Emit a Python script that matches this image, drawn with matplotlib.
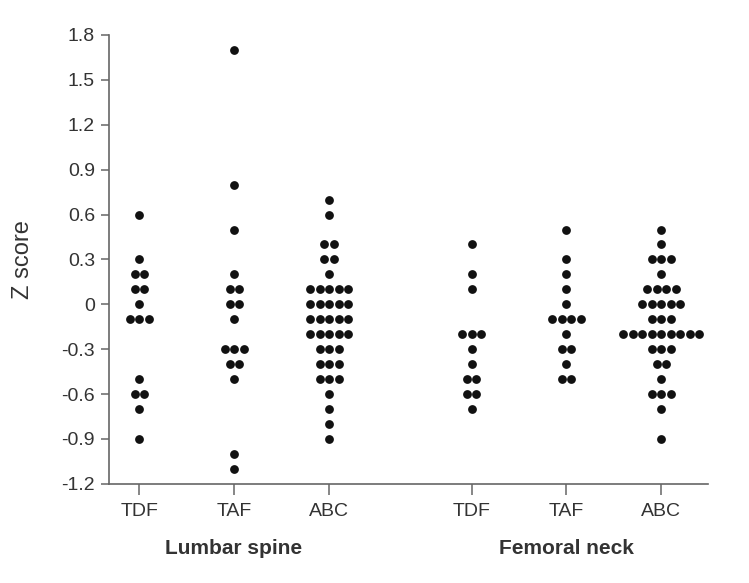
import numpy as np
import matplotlib.pyplot as plt
from collections import Counter

plt.rcParams['font.family'] = ['Liberation Sans', 'DejaVu Sans']
plt.rcParams['axes.unicode_minus'] = False

# z scores, one entry per patient
lumbar_tdf = [0.6, 0.3, 0.2, 0.2, 0.1, 0.1, 0.0, -0.1, -0.1, -0.1,
              -0.5, -0.6, -0.6, -0.7, -0.9]
lumbar_taf = [1.7, 0.8, 0.5, 0.2, 0.1, 0.1, 0.0, 0.0, -0.1, -0.3, -0.3, -0.3,
              -0.4, -0.4, -0.5, -1.0, -1.1]
lumbar_abc = ([0.7, 0.6, 0.4, 0.4, 0.3, 0.3, 0.2] + [0.1] * 5 + [0.0] * 5 +
              [-0.1] * 5 + [-0.2] * 5 + [-0.3] * 3 + [-0.4] * 3 + [-0.5] * 3 +
              [-0.6, -0.7, -0.8, -0.9])
femoral_tdf = [0.4, 0.2, 0.1, -0.2, -0.2, -0.2, -0.3, -0.4, -0.5, -0.5,
               -0.6, -0.6, -0.7]
femoral_taf = [0.5, 0.3, 0.2, 0.1, 0.0, -0.1, -0.1, -0.1, -0.1, -0.2,
               -0.3, -0.3, -0.4, -0.5, -0.5]
femoral_abc = ([0.5, 0.4, 0.3, 0.3, 0.3, 0.2] + [0.1] * 4 + [0.0] * 5 +
               [-0.1] * 3 + [-0.2] * 9 + [-0.3] * 3 + [-0.4] * 2 +
               [-0.5, -0.6, -0.6, -0.6, -0.7, -0.9])

groups = [lumbar_tdf, lumbar_taf, lumbar_abc, femoral_tdf, femoral_taf, femoral_abc]
group_names = ['TDF', 'TAF', 'ABC', 'TDF', 'TAF', 'ABC']
sites = ['Lumbar spine', 'Femoral neck']
xpos = [0, 1, 2, 3.5, 4.5, 5.5]

fig = plt.figure(figsize=(7.49, 5.83), dpi=100)
ax = fig.add_axes([0.1455, 0.170, 0.7995, 0.770])

spacing = 0.1
for x0, vals in zip(xpos, groups):
    counts = Counter(round(v, 2) for v in vals)
    xs, ys = [], []
    for v, n in counts.items():
        for i in range(n):
            xs.append(x0 + (i - (n - 1) / 2) * spacing)
            ys.append(v)
    ax.scatter(xs, ys, s=40, color='#111111', linewidths=0, zorder=3)

ax.set_xlim(-0.32, 5.99)
ax.set_ylim(-1.2, 1.8)
yt = np.round(np.arange(-1.2, 1.81, 0.3), 1)
ax.set_yticks(yt)
ax.set_yticklabels(['0' if t == 0 else f'{t:.1f}' for t in yt])
ax.set_xticks(xpos)
ax.set_xticklabels(group_names)

for s in ['top', 'right']:
    ax.spines[s].set_visible(False)
for s in ['left', 'bottom']:
    ax.spines[s].set_color('#666666')
    ax.spines[s].set_linewidth(1.2)
ax.tick_params(axis='y', length=6, width=1.1, color='#666666', labelsize=14,
               labelcolor='#333333', pad=4)
ax.tick_params(axis='x', length=8, width=1.1, color='#666666', labelsize=14,
               labelcolor='#333333', pad=6)

ax.set_ylabel('Z score', fontsize=17, color='#333333', labelpad=20)

fig.text((139 + 329) / 2 / 749, 1 - 549 / 583, sites[0], ha='center', va='center',
         fontsize=15, fontweight='bold', color='#333333')
fig.text((471 + 661) / 2 / 749, 1 - 549 / 583, sites[1], ha='center', va='center',
         fontsize=15, fontweight='bold', color='#333333')

fig.savefig('out.png', dpi=100)
